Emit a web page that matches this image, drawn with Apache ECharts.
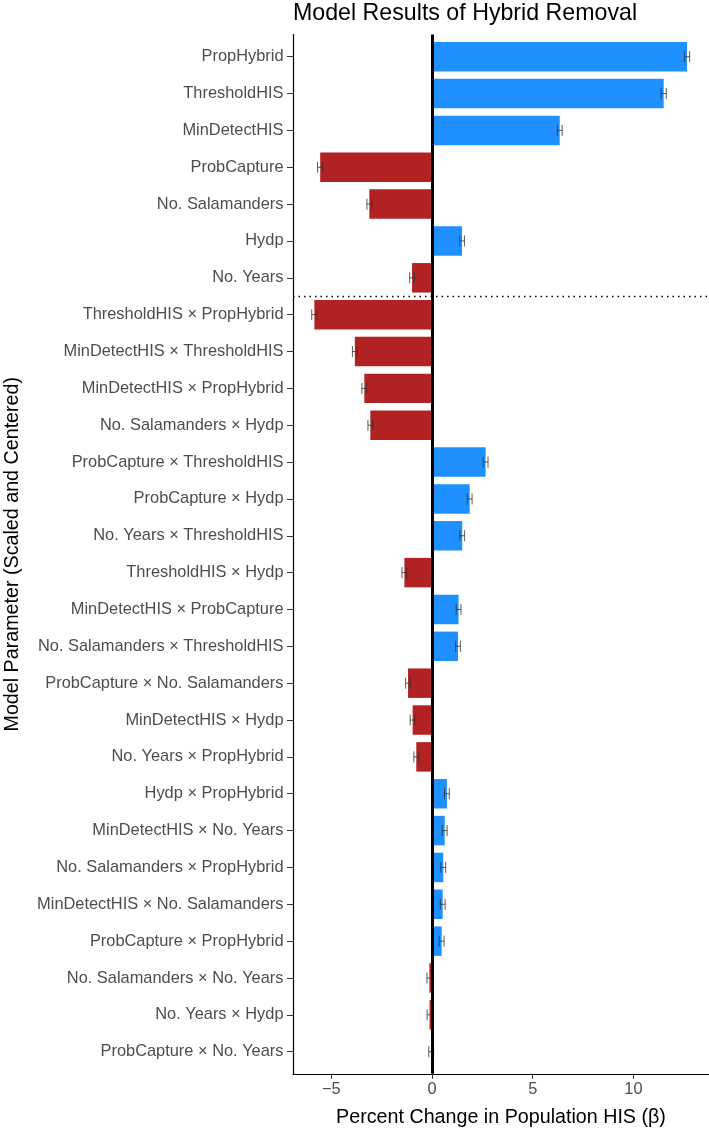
<!DOCTYPE html>
<html>
<head>
<meta charset="utf-8">
<title>Model Results of Hybrid Removal</title>
<script src="https://cdn.jsdelivr.net/npm/echarts@6/dist/echarts.min.js"></script>
<style>
  html, body { margin: 0; padding: 0; background: #fff; }
  #chart { width: 709px; height: 1133px; }
</style>
</head>
<body>
<div id="chart"></div>
<script>
// model terms, top to bottom
const paramNames = [
  "PropHybrid",
  "ThresholdHIS",
  "MinDetectHIS",
  "ProbCapture",
  "No. Salamanders",
  "Hydp",
  "No. Years",
  "ThresholdHIS × PropHybrid",
  "MinDetectHIS × ThresholdHIS",
  "MinDetectHIS × PropHybrid",
  "No. Salamanders × Hydp",
  "ProbCapture × ThresholdHIS",
  "ProbCapture × Hydp",
  "No. Years × ThresholdHIS",
  "ThresholdHIS × Hydp",
  "MinDetectHIS × ProbCapture",
  "No. Salamanders × ThresholdHIS",
  "ProbCapture × No. Salamanders",
  "MinDetectHIS × Hydp",
  "No. Years × PropHybrid",
  "Hydp × PropHybrid",
  "MinDetectHIS × No. Years",
  "No. Salamanders × PropHybrid",
  "MinDetectHIS × No. Salamanders",
  "ProbCapture × PropHybrid",
  "No. Salamanders × No. Years",
  "No. Years × Hydp",
  "ProbCapture × No. Years"
];

// beta estimates (percent change in population HIS)
const estimates = [
  12.66, 11.50, 6.34, -5.55, -3.11, 1.49, -0.99,
  -5.84, -3.83, -3.36, -3.06, 2.66, 1.87, 1.50,
  -1.37, 1.32, 1.29, -1.19, -0.96, -0.78, 0.74,
  0.63, 0.56, 0.53, 0.48, -0.13, -0.12, -0.04
];

// half-width of the error bars
const stdErrors = [
  0.13, 0.13, 0.12, 0.13, 0.12, 0.12, 0.12,
  0.13, 0.12, 0.12, 0.12, 0.12, 0.12, 0.12,
  0.12, 0.12, 0.12, 0.12, 0.12, 0.12, 0.12,
  0.12, 0.12, 0.12, 0.12, 0.12, 0.12, 0.12
];

const xTicks = [-5, 0, 5, 10];
const mainEffectsSplit = 6.5; // dotted line between main effects and interactions

const barData = estimates.map((v, i) => [v, i]);
const errData = estimates.map((v, i) => [v - stdErrors[i], v + stdErrors[i], i]);
const rowIdx = paramNames.map((_, i) => i);

const chart = echarts.init(document.getElementById("chart"));

const option = {
  animation: false,
  textStyle: { fontFamily: "Liberation Sans" },
  title: {
    text: "Model Results of Hybrid Removal",
    left: 293,
    top: 2,
    padding: 0,
    textStyle: { fontSize: 23.2, fontWeight: "normal", color: "#000" }
  },
  grid: { left: 293, right: 0, top: 34.6, bottom: 59.2, outerBoundsMode: "none" },
  xAxis: {
    type: "value",
    min: -6.9,
    max: 13.75,
    name: "Percent Change in Population HIS (β)",
    nameLocation: "middle",
    nameGap: 34,
    nameTextStyle: { fontSize: 19.7, color: "#000" },
    axisLine: { show: true, onZero: false, lineStyle: { color: "#000", width: 1.2 } },
    axisTick: { show: true, length: 5, customValues: xTicks, lineStyle: { color: "#333" } },
    axisLabel: {
      customValues: xTicks,
      fontSize: 16.4,
      color: "#4d4d4d",
      margin: 8,
      formatter: v => (v < 0 ? "\u2212" + Math.abs(v) : String(v))
    },
    splitLine: { show: false }
  },
  yAxis: {
    type: "value",
    inverse: true,
    min: -0.6,
    max: 27.6,
    name: "Model Parameter (Scaled and Centered)",
    nameLocation: "middle",
    nameRotate: 90,
    nameGap: 270,
    nameTextStyle: { fontSize: 19.7, color: "#000" },
    axisLine: { show: true, onZero: false, lineStyle: { color: "#000", width: 1.2 } },
    axisTick: { show: true, length: 6, customValues: rowIdx, lineStyle: { color: "#333" } },
    axisLabel: {
      customValues: rowIdx,
      fontSize: 16.4,
      color: "#4d4d4d",
      margin: 9.5,
      formatter: v => paramNames[v]
    },
    splitLine: { show: false }
  },
  series: [
    {
      type: "custom",
      name: "estimate",
      data: barData,
      encode: { x: 0, y: 1 },
      renderItem: (params, api) => {
        const v = api.value(0);
        const i = api.value(1);
        const a = api.coord([0, i]);
        const b = api.coord([v, i]);
        const h = api.size([0, 1])[1] * 0.8;
        return {
          type: "rect",
          shape: { x: Math.min(a[0], b[0]), y: a[1] - h / 2, width: Math.abs(b[0] - a[0]), height: h },
          style: { fill: v >= 0 ? "#1E90FF" : "#B22222" }
        };
      }
    },
    {
      type: "custom",
      name: "error",
      z: 3,
      data: errData,
      encode: { x: [0, 1], y: 2 },
      renderItem: (params, api) => {
        const i = api.value(2);
        const p = api.coord([api.value(0), i]);
        const q = api.coord([api.value(1), i]);
        const c = api.size([0, 1])[1] * 0.15;
        const st = { stroke: "rgba(50,50,50,0.8)", lineWidth: 1 };
        return {
          type: "group",
          children: [
            { type: "line", shape: { x1: p[0], y1: p[1], x2: q[0], y2: q[1] }, style: st },
            { type: "line", shape: { x1: p[0], y1: p[1] - c, x2: p[0], y2: p[1] + c }, style: st },
            { type: "line", shape: { x1: q[0], y1: q[1] - c, x2: q[0], y2: q[1] + c }, style: st }
          ]
        };
      }
    },
    {
      type: "line",
      name: "refs",
      z: 5,
      data: [],
      markLine: {
        silent: true,
        symbol: ["none", "none"],
        label: { show: false },
        data: [
          { xAxis: 0, lineStyle: { color: "#000", width: 3, type: "solid" } },
          { yAxis: mainEffectsSplit, lineStyle: { color: "#000", width: 1.3, type: [1.5, 4] } }
        ]
      }
    }
  ]
};

chart.setOption(option);
</script>
</body>
</html>
